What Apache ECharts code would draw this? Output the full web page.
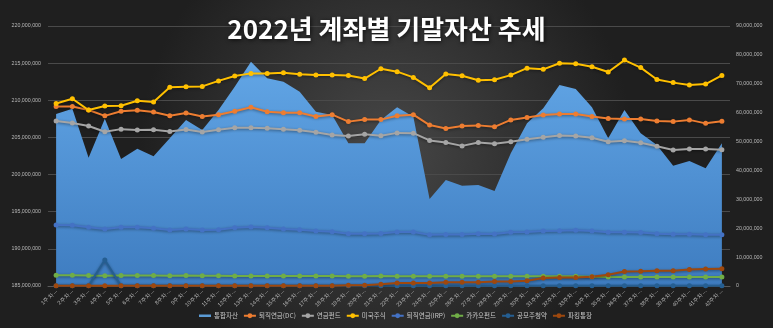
<!DOCTYPE html>
<html><head><meta charset="utf-8">
<script src="https://cdn.jsdelivr.net/npm/echarts@6/dist/echarts.min.js"></script>
<style>html,body{margin:0;padding:0;background:#2b2b2b}#c{width:773px;height:328px}</style>
</head><body><div id="c"></div>
<script>
const categories = Array.from({length: 42}, (_, i) => (i + 1) + '주차');
const 통합자산 = [208150000,208870000,202270000,207520000,202100000,203480000,202460000,204880000,207350000,206000000,208690000,211830000,215200000,212960000,212500000,211160000,208460000,208020000,204210000,204210000,207350000,209060000,207790000,196710000,199270000,198500000,198600000,197790000,202860000,206900000,208920000,212060000,211520000,209060000,204880000,208690000,205560000,203980000,201190000,201830000,200840000,204210000];
const 퇴직연금DC = [62100000,62100000,60900000,58900000,60500000,60800000,60200000,58900000,59900000,58700000,59300000,60500000,61900000,60300000,60000000,60000000,58700000,59300000,56900000,57600000,57600000,58900000,59300000,55700000,54500000,55400000,55600000,55100000,57500000,58300000,59200000,59500000,59500000,58700000,58000000,57800000,57800000,57100000,56900000,57500000,56300000,57000000];
const 연금펀드 = [57100000,56400000,55400000,53400000,54300000,54000000,54100000,53500000,54200000,53300000,54100000,54800000,54800000,54600000,54300000,53900000,53200000,52300000,51900000,52500000,52000000,53000000,52900000,50400000,49700000,48500000,49700000,49200000,49900000,50800000,51500000,52100000,51900000,51300000,49900000,50300000,49600000,48400000,47100000,47400000,47400000,47200000];
const 미국주식 = [63200000,64800000,60900000,62300000,62400000,64100000,63700000,68800000,69000000,69100000,71000000,72700000,73600000,73600000,73800000,73300000,73000000,73000000,72900000,71800000,75200000,74200000,72200000,68600000,73400000,72800000,71200000,71400000,73000000,75400000,75000000,77100000,76900000,75900000,74100000,78200000,75600000,71500000,70400000,69600000,69900000,72900000];
const 퇴직연금IRP = [21100000,21000000,20300000,19700000,20300000,20300000,20000000,19400000,19700000,19400000,19500000,20200000,20400000,20200000,19700000,19500000,19000000,18800000,18100000,18100000,18200000,18700000,18700000,17700000,17800000,17800000,18100000,18000000,18600000,18700000,19000000,19100000,19300000,19000000,18600000,18600000,18500000,18100000,17900000,17900000,17700000,17700000];
const 카카오펀드 = [3700000,3700000,3600000,3550000,3600000,3600000,3600000,3550000,3600000,3550000,3550000,3500000,3500000,3500000,3500000,3500000,3450000,3450000,3400000,3400000,3450000,3400000,3400000,3350000,3350000,3350000,3350000,3350000,3350000,3350000,3400000,3400000,3400000,3200000,3150000,3150000,3150000,3100000,3100000,3100000,3100000,3100000];
const 공모주청약 = [100000,100000,100000,9000000,100000,100000,100000,100000,100000,100000,100000,100000,100000,100000,100000,100000,100000,100000,100000,100000,100000,100000,100000,100000,100000,100000,100000,100000,100000,100000,100000,100000,100000,100000,100000,100000,100000,100000,100000,100000,100000,100000];
const 파킹통장 = [100000,100000,100000,100000,100000,100000,100000,100000,100000,100000,100000,100000,100000,100000,100000,100000,100000,100000,300000,300000,600000,1000000,1000000,1000000,1300000,1300000,1300000,1600000,1600000,1800000,2800000,2900000,2900000,3200000,3900000,5000000,5100000,5300000,5300000,5700000,5900000,6000000];
const seriesNames = ['통합자산','퇴직연금(DC)','연금펀드','미국주식','퇴직연금(IRP)','카카오펀드','공모주청약','파킹통장'];
const colors = ['#5B9BD5','#ED7D31','#A5A5A5','#FFC000','#4472C4','#70AD47','#255E91','#9E480E'];

const fmt = v => Number(v).toLocaleString('en-US');
const chart = echarts.init(document.getElementById('c'), null, {renderer: 'canvas'});
const lineSeries = (name, data, color) => ({
  name, type: 'line', yAxisIndex: 1, data,
  symbol: 'circle', symbolSize: 5,
  itemStyle: {color},
  lineStyle: {color, width: 2, shadowColor: 'rgba(0,0,0,0.45)', shadowBlur: 3, shadowOffsetY: 1},
  emphasis: {disabled: true}, animation: false
});
chart.setOption({
  animation: false,
  backgroundColor: {
    type: 'radial', x: 0.5, y: 0.45, r: 0.75,
    colorStops: [{offset: 0, color: '#474747'}, {offset: 1, color: '#1f1f1f'}]
  },
  color: colors,
  title: {
    text: '2022년 계좌별 기말자산 추세', left: 'center', top: 11,
    textStyle: {color: '#ffffff', fontSize: 26, fontWeight: 'bold', fontFamily: 'Noto Sans CJK KR',
      textShadowColor: 'rgba(0,0,0,0.7)', textShadowBlur: 4, textShadowOffsetX: 1, textShadowOffsetY: 1}
  },
  legend: {
    bottom: 4, left: 194, itemWidth: 12, itemHeight: 6, itemGap: 5,
    textStyle: {color: '#c8c8c8', fontSize: 6.5, fontFamily: 'Noto Sans CJK KR', padding: [0,0,0,-2]},
    data: seriesNames.map((n, i) => i === 0
      ? {name: n, icon: 'path://M0,0h24v5h-24z', itemStyle: {color: colors[0]}}
      : {name: n})
  },
  grid: {left: 48, right: 43, top: 26, bottom: 42},
  xAxis: {
    type: 'category', data: categories, boundaryGap: true,
    axisLine: {show: true, lineStyle: {color: '#5a5a5a', width: 1}},
    axisTick: {show: false},
    axisLabel: {color: '#b8b8b8', fontSize: 5.5, rotate: 45, interval: 0, margin: 4,
      formatter: v => v + '...'}
  },
  yAxis: [
    {type: 'value', min: 185000000, max: 220000000, interval: 5000000,
      axisLine: {show: false}, axisTick: {show: false},
      splitLine: {lineStyle: {color: '#4a4a4a', width: 1}},
      axisLabel: {color: '#b8b8b8', fontSize: 5.3, margin: 7, formatter: fmt}},
    {type: 'value', min: 0, max: 90000000, interval: 10000000,
      axisLine: {show: false}, axisTick: {show: false}, splitLine: {show: false},
      axisLabel: {color: '#b8b8b8', fontSize: 5.3, margin: 6, formatter: fmt}}
  ],
  series: [
    {name: '통합자산', type: 'line', yAxisIndex: 0, data: 통합자산, symbol: 'none',
      itemStyle: {color: '#5B9BD5'},
      lineStyle: {width: 0},
      areaStyle: {opacity: 1, color: {type: 'linear', x: 0, y: 0, x2: 0, y2: 1,
        colorStops: [{offset: 0, color: '#62a6e6'}, {offset: 1, color: '#3e7cc0'}]}},
      emphasis: {disabled: true}},
    lineSeries('퇴직연금(DC)', 퇴직연금DC, colors[1]),
    lineSeries('연금펀드', 연금펀드, colors[2]),
    lineSeries('미국주식', 미국주식, colors[3]),
    lineSeries('퇴직연금(IRP)', 퇴직연금IRP, colors[4]),
    lineSeries('카카오펀드', 카카오펀드, colors[5]),
    lineSeries('공모주청약', 공모주청약, colors[6]),
    lineSeries('파킹통장', 파킹통장, colors[7])
  ]
});
</script></body></html>
